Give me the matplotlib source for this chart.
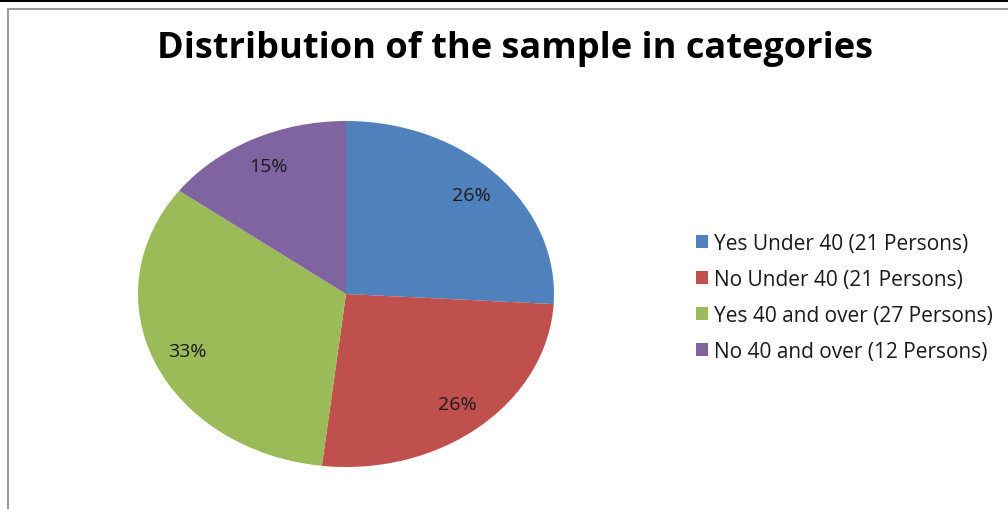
import matplotlib.pyplot as plt
from matplotlib.patches import Rectangle
from matplotlib.lines import Line2D

categories = ['Yes Under 40 (21 Persons)', 'No Under 40 (21 Persons)',
              'Yes 40 and over (27 Persons)', 'No 40 and over (12 Persons)']
persons = [21, 21, 27, 12]
colors = ['#4F81BD', '#C0504D', '#9BBB59', '#8064A2']

W, H = 1008, 510
fig = plt.figure(figsize=(W / 100, H / 100), dpi=100)

# top black strip and grey chart border
fig.patches.append(Rectangle((0, 1 - 3 / H), 1, 3 / H, transform=fig.transFigure,
                             facecolor='black', edgecolor='none'))
fig.lines.append(Line2D([8 / W, 8 / W], [0, 1 - 10 / H], transform=fig.transFigure,
                        color='#9a9a9a', lw=1.5))
fig.lines.append(Line2D([8 / W, 1], [1 - 10 / H, 1 - 10 / H], transform=fig.transFigure,
                        color='#9a9a9a', lw=1.5))

# pie is stretched into an ellipse, like the original
ax = fig.add_axes([138 / W, (H - 468) / H, 416 / W, 346 / H])
wedges, texts, autotexts = ax.pie(persons, colors=colors, startangle=90, counterclock=False,
                                  autopct='%1.0f%%', pctdistance=0.83,
                                  wedgeprops=dict(linewidth=0),
                                  textprops=dict(fontsize=14, color='#1a1a1a',
                                                 family='Open Sans'))
ax.set_aspect('auto')
ax.set_xlim(-1, 1)
ax.set_ylim(-1, 1)

fig.text(515 / W, 1 - 49 / H, 'Distribution of the sample in categories',
         ha='center', va='center', fontsize=26, fontweight='bold', family='Open Sans')

leg = fig.legend(wedges, categories, loc='upper left', bbox_to_anchor=(677 / W, 1 - 215 / H),
                 frameon=False, handlelength=0.6, handleheight=0.6,
                 handletextpad=0.3, labelspacing=0.72, prop=dict(family='Open Sans', size=15))
for t in leg.get_texts():
    t.set_color('#1a1a1a')

fig.savefig('out.png', dpi=100)
